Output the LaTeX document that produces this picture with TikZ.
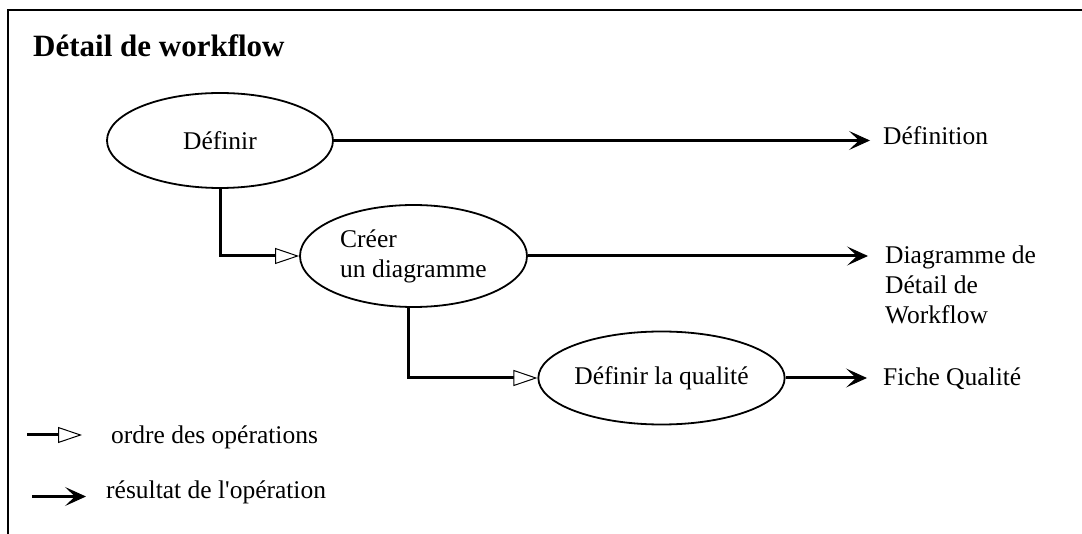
\documentclass[tikz,border=0pt]{standalone}
\usepackage{fontspec}
\setmainfont{Liberation Serif}
\usetikzlibrary{shapes.geometric,arrows.meta,calc}
\tikzset{
  body/.style={font=\fontsize{25.5}{30}\selectfont, inner sep=0pt},
  proc/.style={body, ellipse, draw, line width=1.8pt},
  outtxt/.style={body, align=left},
  ord/.style={line width=3pt, -{Triangle[length=24pt,width=16pt,line width=1pt,fill=white]}},
  res/.style={line width=3pt, -{Stealth[length=21pt,width=19pt,inset=10pt,line width=1pt]}},
  frame/.style={line width=2.5pt}
}
\begin{document}
\begin{tikzpicture}[x=1pt,y=-1pt]
\useasboundingbox (0,0) rectangle (1082,534);
% frame (open at right and bottom)
\draw[frame] (8,534) -- (8,10) -- (1082,10);
% title
\node[anchor=base west, inner sep=0pt, font=\fontsize{31}{36}\selectfont\bfseries] (title) at (33,57) {Détail de workflow};
% process ellipses
\node[proc, minimum width=226pt, minimum height=95pt] (def) at (220,140.5) {Définir};
\node[proc, minimum width=227pt, minimum height=102pt, align=left] (cre) at (413.5,256) {Créer\\un diagramme};
\node[proc, minimum width=223pt, minimum height=93pt] (qual) at (661.5,378) {Définir la qualité};
% results
\node[outtxt, anchor=base west] (outDef) at (883,145) {Définition};
\node[outtxt, anchor=north west] (outDiag) at (885,246) {Diagramme de\\Détail de\\Workflow};
\node[outtxt, anchor=base west] (outQ) at (883,386) {Fiche Qualité};
% result arrows
\draw[res, shorten >=13pt] (def.east) -- (def.east -| outDef.west);
\draw[res, shorten >=17pt] (cre.east) -- (cre.east -| outDiag.west);
\draw[res, shorten >=16pt] (qual.east) -- (qual.east -| outQ.west);
% order arrows
\draw[ord] (def.south) |- (cre.west);
\draw[ord] ([xshift=-5.5pt]cre.south) |- (qual.west);
% legend
\node[outtxt, anchor=base west] (legOrd) at (111,443) {ordre des opérations};
\node[outtxt, anchor=base west] (legRes) at (106,498) {résultat de l\textquotesingle opération};
\coordinate (lo) at (27,435);
\coordinate (lr) at (32,496.5);
\draw[ord, shorten >=29pt] (lo) -- (lo -| legOrd.west);
\draw[res, shorten >=20pt] (lr) -- (lr -| legRes.west);
\end{tikzpicture}
\end{document}
